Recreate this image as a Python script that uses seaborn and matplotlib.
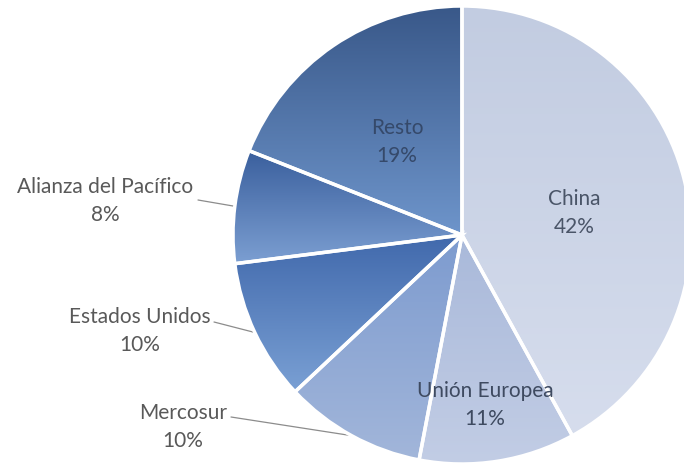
import numpy as np
import matplotlib
matplotlib.use("Agg")
import matplotlib.pyplot as plt
import matplotlib.colors as mcolors
import seaborn as sns

labels = ["China", "Unión Europea", "Mercosur", "Estados Unidos", "Alianza del Pacífico", "Resto"]
values = [42, 11, 10, 10, 8, 19]
top_colors = ["#c2cce1", "#a9b9da", "#7d9bcf", "#4169ac", "#3a5f9d", "#395889"]
bottom_colors = ["#d6dded", "#c2cde5", "#a2b6da", "#7aa0d4", "#7c9fd2", "#6e95cb"]

sns.set_theme(style="white")
plt.rcParams["font.family"] = ["Lato", "DejaVu Sans"]

W, H = 684, 468
fig = plt.figure(figsize=(W / 100, H / 100), dpi=100)
ax = fig.add_axes([0, 0, 1, 1])

cx, cy, r = 462, H - 235, 229
wedges, _ = ax.pie(values, startangle=90, counterclock=False, center=(cx, cy), radius=r,
                   wedgeprops=dict(edgecolor="white", linewidth=2.5))

# vertical gradient fill per slice
for w, c0, c1 in zip(wedges, top_colors, bottom_colors):
    ext = w.get_path().get_extents()
    a = np.array(mcolors.to_rgb(c0))
    b = np.array(mcolors.to_rgb(c1))
    t = np.linspace(0, 1, 256)[:, None, None]
    grad = a * (1 - t) + b * t
    im = ax.imshow(grad, extent=(ext.x0, ext.x1, ext.y0, ext.y1), origin="upper",
                   aspect="auto", interpolation="bilinear", zorder=1)
    im.set_clip_path(w)
    w.set_facecolor("none")
    w.set_zorder(3)

pct = {l: f"{v}%" for l, v in zip(labels, values)}
txt = dict(fontsize=15, ha="center", va="center", linespacing=1.5)

# inside labels
ax.text(574, H - 213, f"China\n{pct['China']}", color="#4a5568", zorder=5, **txt)
ax.text(397, H - 142, f"Resto\n{pct['Resto']}", color="#35496a", zorder=5, **txt)
ax.text(485, H - 405, f"Unión Europea\n{pct['Unión Europea']}", color="#3e4a60", zorder=5, **txt)

# outside labels with leader lines
outside = {
    "Alianza del Pacífico": ((105, H - 201), (198, H - 200)),
    "Estados Unidos": ((140, H - 331), (214, H - 322)),
    "Mercosur": ((183, H - 427), (231, H - 417)),
}
for w, lab in zip(wedges, labels):
    if lab not in outside:
        continue
    (tx, ty), (lx, ly) = outside[lab]
    ang = np.deg2rad((w.theta1 + w.theta2) / 2)
    ex, ey = cx + r * np.cos(ang), cy + r * np.sin(ang)
    ax.text(tx, ty, f"{lab}\n{pct[lab]}", color="#595959", zorder=5, **txt)
    ax.plot([lx, ex], [ly, ey], color="#8c8c8c", lw=0.9, zorder=0.5)

ax.set_xlim(0, W)
ax.set_ylim(0, H)
ax.set_aspect("equal")
ax.axis("off")
fig.savefig("out.png", dpi=100)
